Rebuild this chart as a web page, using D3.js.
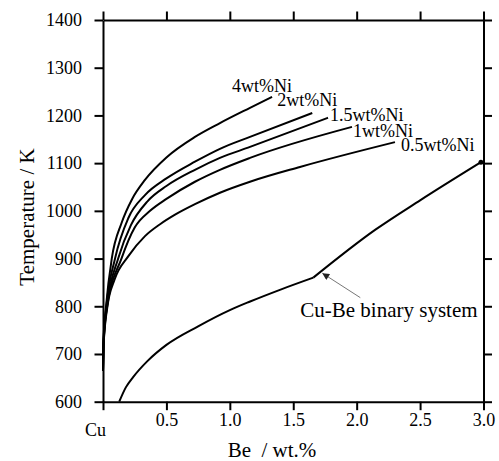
<!DOCTYPE html>
<html>
<head>
<meta charset="utf-8">
<script src="https://cdn.jsdelivr.net/npm/d3@7"></script>
<style>
  body { margin: 0; background: #fff; }
  svg { display: block; }
  .axis path, .axis line { stroke: #000; stroke-width: 2; }
  .curve { fill: none; stroke: #000; stroke-width: 2; }
</style>
</head>
<body>
<script>
// Be content (wt.%) vs temperature (K).
const ni4 = [[0,665],[0.004,730],[0.024,800],[0.069,900],[0.147,975],[0.23,1025],[0.331,1065],[0.5,1112],[0.725,1155],[0.922,1184],[1.159,1216],[1.333,1239]];
const ni2 = [[0,665],[0.004,725],[0.027,800],[0.095,900],[0.2,985],[0.331,1033],[0.5,1068],[0.725,1103],[0.922,1130],[1.159,1155],[1.65,1205]];
const ni15 = [[0,665],[0.004,722],[0.031,800],[0.121,901],[0.22,970],[0.351,1020],[0.5,1052],[0.725,1086],[0.922,1111],[1.159,1134],[1.774,1195]];
const ni1 = [[0,665],[0.004,718],[0.033,800],[0.147,901],[0.25,965],[0.371,1000],[0.5,1025],[0.725,1061],[0.922,1086],[1.159,1111],[1.963,1176]];
const ni05 = [[0,665],[0.004,715],[0.035,800],[0.09,855],[0.2,905],[0.331,947],[0.45,972],[0.568,992],[0.725,1014],[0.922,1038],[1.159,1061],[1.553,1092],[2.302,1144]];
const binaryLow = [[0.128,600],[0.18,630],[0.239,652],[0.35,685],[0.5,719],[0.75,758],[1.0,792],[1.16,810],[1.4,835],[1.658,860]];
const binaryHigh = [[1.658,860],[2.145,960],[2.5,1022],[2.98,1102]];

const niSeries = [ni4, ni2, ni15, ni1, ni05];
const niLabels = ["4wt%Ni", "2wt%Ni", "1.5wt%Ni", "1wt%Ni", "0.5wt%Ni"];
const binaryLabel = "Cu-Be binary system";

const xTicks = [0, 0.5, 1.0, 1.5, 2.0, 2.5, 3.0];
const xTickLabels = ["Cu", "0.5", "1.0", "1.5", "2.0", "2.5", "3.0"];
const yTicks = [600, 700, 800, 900, 1000, 1100, 1200, 1300, 1400];

const width = 499, height = 461;
const margin = {top: 20, right: 15.5, bottom: 59.3, left: 103};
const serif = "'Liberation Serif', 'Times New Roman', serif";

const svg = d3.select("body").append("svg")
    .attr("width", width)
    .attr("height", height)
    .attr("font-family", serif);

const x = d3.scaleLinear().domain([0, 3]).range([margin.left, width - margin.right]);
const y = d3.scaleLinear().domain([600, 1400]).range([height - margin.bottom, margin.top]);

// frame + ticks, all pointing outward
svg.append("g").attr("class", "axis")
    .attr("transform", "translate(0," + y(600) + ")")
    .call(d3.axisBottom(x).tickValues(xTicks).tickSize(8.5).tickSizeOuter(0).tickPadding(3)
        .tickFormat((d, i) => xTickLabels[i]));
svg.append("g").attr("class", "axis")
    .attr("transform", "translate(0," + y(1400) + ")")
    .call(d3.axisTop(x).tickValues(xTicks).tickSize(8.5).tickSizeOuter(0).tickFormat(""));
svg.append("g").attr("class", "axis")
    .attr("transform", "translate(" + x(0) + ",0)")
    .call(d3.axisLeft(y).tickValues(yTicks).tickSize(8.5).tickSizeOuter(0).tickPadding(12.5)
        .tickFormat(d3.format("d")));
svg.append("g").attr("class", "axis")
    .attr("transform", "translate(" + x(3) + ",0)")
    .call(d3.axisRight(y).tickValues(yTicks).tickSize(8.5).tickSizeOuter(0).tickFormat(""));

// d3 puts sans-serif 10px on the axis groups; override
svg.selectAll(".axis")
    .attr("font-family", serif)
    .attr("font-size", 18);
svg.selectAll(".axis text")
    .attr("fill", "#000")
    .style("font-family", serif)
    .style("font-size", "18px");

// "Cu" sits lower and a bit left
svg.selectAll(".axis text").filter(d => d === 0)
    .attr("x", -8).attr("dy", "1.25em");

const line = d3.line()
    .x(d => x(d[0]))
    .y(d => y(d[1]))
    .curve(d3.curveMonotoneX);

svg.selectAll(".ni")
    .data(niSeries)
    .enter().append("path")
    .attr("class", "curve ni")
    .attr("d", line);

svg.append("path").datum(binaryLow).attr("class", "curve").attr("d", line);
svg.append("path").datum(binaryHigh).attr("class", "curve").attr("d", line);

// end dot of the binary line
const last = binaryHigh[binaryHigh.length - 1];
svg.append("circle")
    .attr("cx", x(last[0])).attr("cy", y(last[1])).attr("r", 2.5).attr("fill", "#000");

// curve labels, placed from each curve's end point
const labelOffsets = [[-40, -5], [-35, -7], [2, 3], [1, 10], [6, 9]];
svg.selectAll(".nilabel")
    .data(niSeries)
    .enter().append("text")
    .attr("class", "nilabel")
    .attr("x", (d, i) => x(d[d.length - 1][0]) + labelOffsets[i][0])
    .attr("y", (d, i) => y(d[d.length - 1][1]) + labelOffsets[i][1])
    .attr("font-size", 18)
    .text((d, i) => niLabels[i]);

// arrow to the binary kink
svg.append("defs").append("marker")
    .attr("id", "head")
    .attr("viewBox", "0 0 10 10")
    .attr("refX", 10).attr("refY", 5)
    .attr("markerWidth", 9).attr("markerHeight", 7)
    .attr("markerUnits", "userSpaceOnUse")
    .attr("orient", "auto")
    .append("path").attr("d", "M0,0L10,5L0,10z").attr("fill", "#222");

const kink = binaryLow[binaryLow.length - 1];
svg.append("line")
    .attr("x1", x(kink[0]) + 47).attr("y1", y(kink[1]) + 20)
    .attr("x2", x(kink[0]) + 9).attr("y2", y(kink[1]) - 4.5)
    .attr("stroke", "#777").attr("stroke-width", 1)
    .attr("marker-end", "url(#head)");

svg.append("text")
    .attr("x", x(kink[0]) - 13).attr("y", y(kink[1]) + 39)
    .attr("font-size", 21)
    .text(binaryLabel);

// axis titles
svg.append("text")
    .attr("x", 272).attr("y", 457)
    .attr("text-anchor", "middle")
    .attr("font-size", 21)
    .style("white-space", "pre")
    .text("Be  / wt.%");

svg.append("text")
    .attr("transform", "translate(34,217) rotate(-90)")
    .attr("text-anchor", "middle")
    .attr("font-size", 21)
    .text("Temperature / K");
</script>
</body>
</html>
